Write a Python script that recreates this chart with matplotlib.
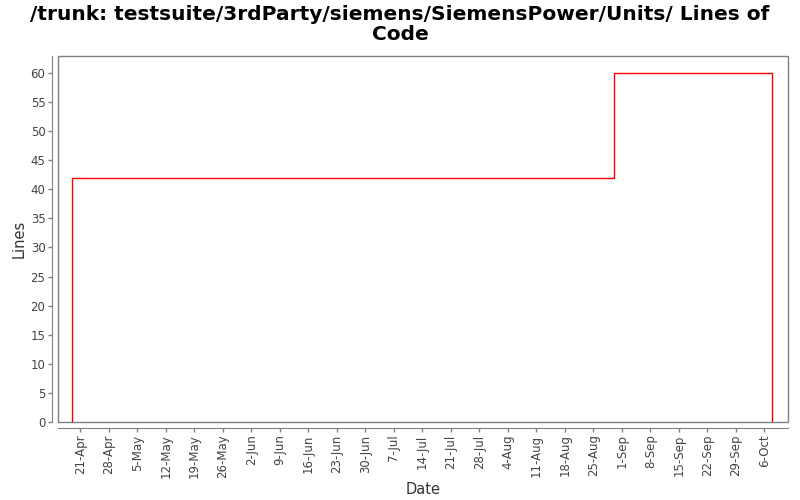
import matplotlib
matplotlib.use("Agg")
import matplotlib.pyplot as plt
import pandas as pd
from matplotlib.patches import Rectangle

dates = pd.to_datetime(["2008-04-19", "2008-04-19", "2008-08-30", "2008-10-08"])
lines = [0, 42, 60, 0]
tick_dates = pd.date_range("2008-04-21", "2008-10-06", freq="7D")
tick_labels = [d.strftime("%-d-%b") for d in tick_dates]
yticks = list(range(0, 61, 5))

fig = plt.figure(figsize=(8, 5), dpi=100)
ax = fig.add_axes([58/800, 1-422/500, (788-58)/800, (422-56)/500])

ax.plot(dates, lines, drawstyle="steps-post", color="red", lw=1)

ax.set_xlim(pd.Timestamp("2008-04-15 12:00"), pd.Timestamp("2008-10-11 20:00"))
ax.set_ylim(0, 62.9)
ax.set_xticks(tick_dates)
ax.set_xticklabels(tick_labels)
ax.set_yticks(yticks)

gray = "#808080"
for s in ["top", "right"]:
    ax.spines[s].set_visible(False)
for s in ["left", "bottom"]:
    ax.spines[s].set_position(("outward", 4))
    ax.spines[s].set_color(gray)
ax.add_patch(Rectangle((0, 0), 1, 1, transform=ax.transAxes, fill=False,
                       edgecolor=gray, lw=1, clip_on=False))
ax.tick_params(axis="both", colors=gray, labelcolor="#444444", labelsize=8.5,
               length=3, width=1)
ax.tick_params(axis="x", labelrotation=90, pad=2)
ax.tick_params(axis="y", pad=2)

ax.set_xlabel("Date", fontsize=10.5, color="#333333", labelpad=3)
ax.set_ylabel("Lines", fontsize=10.5, color="#333333", labelpad=3)
fig.suptitle("/trunk: testsuite/3rdParty/siemens/SiemensPower/Units/ Lines of\nCode",
             fontsize=14.5, fontweight="bold", y=0.99, linespacing=1.1)

fig.savefig("out.png", dpi=100)
